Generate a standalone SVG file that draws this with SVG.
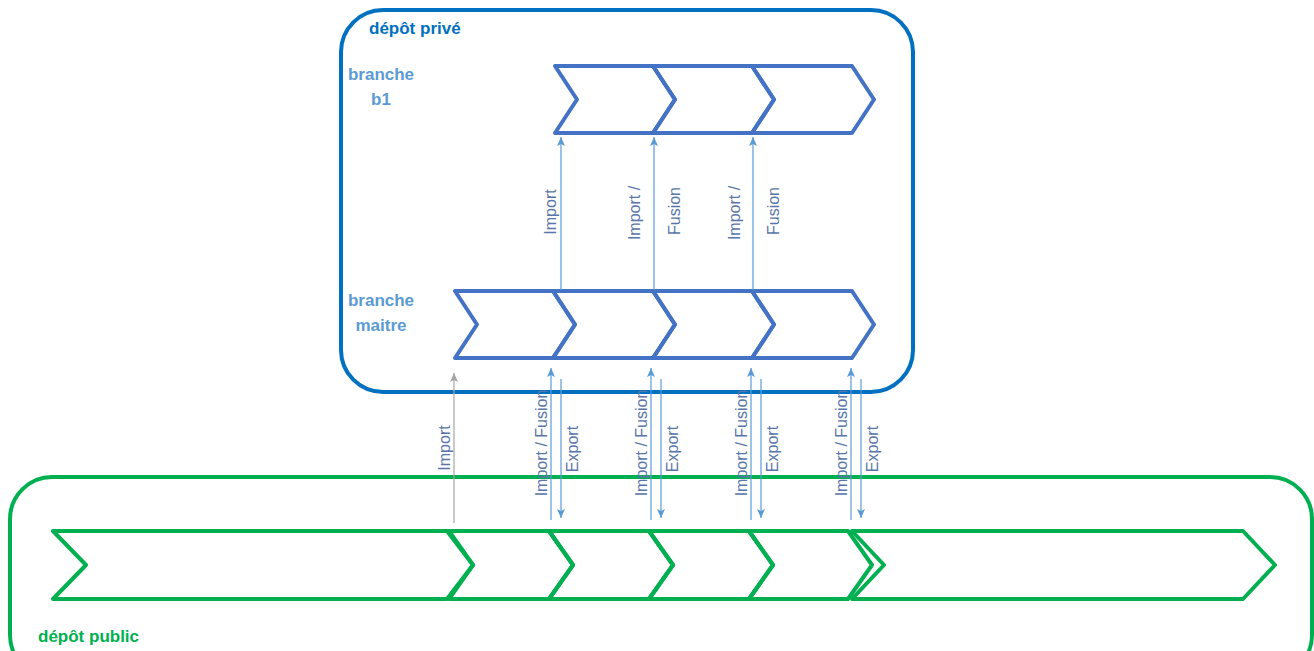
<svg xmlns="http://www.w3.org/2000/svg" width="1314" height="651" viewBox="0 0 1314 651">
<style>
.box{fill:none;stroke-width:4}
.priv{stroke:#0070C0}
.pub{stroke:#00B050}
.chevB{fill:none;stroke:#4472C4;stroke-width:4;stroke-linejoin:round}
.chevG{fill:none;stroke:#00B050;stroke-width:4;stroke-linejoin:round}
.title{font-family:"Liberation Sans",Arial,sans-serif;font-weight:bold;font-size:17px}
.br{font-family:"Liberation Sans",Arial,sans-serif;font-weight:bold;font-size:17px;fill:#5B9BD5}
.lbl{font-family:"Liberation Sans",Arial,sans-serif;font-size:16px;fill:#5876A8}
.ab{stroke:#5B9BD5;stroke-width:1.2;fill:none}
.ag{stroke:#A5A5A5;stroke-width:1.2;fill:none}
</style>
<defs>
<marker id="mb" markerWidth="10" markerHeight="10" refX="9" refY="5" orient="auto" markerUnits="userSpaceOnUse">
<path d="M0,1 L9,5 L0,9 L2,5 Z" fill="#5B9BD5"/>
</marker>
<marker id="mg" markerWidth="10" markerHeight="10" refX="9" refY="5" orient="auto" markerUnits="userSpaceOnUse">
<path d="M0,1 L9,5 L0,9 L2,5 Z" fill="#A5A5A5"/>
</marker>
</defs>
<rect width="1314" height="651" fill="#ffffff"/>

<g id="depot-prive">
<rect class="box priv" x="341" y="10" width="572" height="382" rx="42" ry="42"/>
<text class="title" x="369" y="34" fill="#0070C0">dépôt privé</text>
</g>

<g id="depot-public">
<rect class="box pub" x="10" y="477" width="1302" height="200" rx="42" ry="42"/>
<text class="title" x="38" y="642" fill="#00B050">dépôt public</text>
</g>

<g id="branche-b1">
<text class="br" x="381" y="80" text-anchor="middle">branche</text>
<text class="br" x="381" y="105" text-anchor="middle">b1</text>
<polygon class="chevB" points="555,66 653,66 675,99.5 653,133 555,133 577,99.5"/>
<polygon class="chevB" points="653,66 752,66 774,99.5 752,133 653,133 675,99.5"/>
<polygon class="chevB" points="752,66 852,66 874,99.5 852,133 752,133 774,99.5"/>
</g>

<g id="branche-maitre">
<text class="br" x="381" y="306" text-anchor="middle">branche</text>
<text class="br" x="381" y="331" text-anchor="middle">maitre</text>
<polygon class="chevB" points="455,291 553,291 575,324.5 553,358 455,358 477,324.5"/>
<polygon class="chevB" points="553,291 653,291 675,324.5 653,358 553,358 575,324.5"/>
<polygon class="chevB" points="653,291 752,291 774,324.5 752,358 653,358 675,324.5"/>
<polygon class="chevB" points="752,291 852,291 874,324.5 852,358 752,358 774,324.5"/>
</g>

<g id="branche-publique">
<polygon class="chevG" points="53,531 447,531 473,565 447,599 53,599 86,565"/>
<polygon class="chevG" points="449,531 549,531 573,565 549,599 449,599 473,565"/>
<polygon class="chevG" points="549,531 649,531 673,565 649,599 549,599 573,565"/>
<polygon class="chevG" points="649,531 749,531 773,565 749,599 649,599 673,565"/>
<polygon class="chevG" points="749,531 848,531 872,565 848,599 749,599 773,565"/>
<polygon class="chevG" points="852,531 1243,531 1275,565 1243,599 852,599 884,565"/>
</g>

<g id="connecteurs">
<line class="ab" x1="561" y1="290" x2="561" y2="137" marker-end="url(#mb)"/>
<line class="ab" x1="654" y1="290" x2="654" y2="137" marker-end="url(#mb)"/>
<line class="ab" x1="753" y1="290" x2="753" y2="137" marker-end="url(#mb)"/>
<text class="lbl" transform="translate(550,212) rotate(-90)" text-anchor="middle" dominant-baseline="central">Import</text>
<text class="lbl" transform="translate(634,213) rotate(-90)" text-anchor="middle" dominant-baseline="central">Import /</text>
<text class="lbl" transform="translate(674,211) rotate(-90)" text-anchor="middle" dominant-baseline="central">Fusion</text>
<text class="lbl" transform="translate(734,213) rotate(-90)" text-anchor="middle" dominant-baseline="central">Import /</text>
<text class="lbl" transform="translate(773,211) rotate(-90)" text-anchor="middle" dominant-baseline="central">Fusion</text>

<line class="ag" x1="454" y1="523" x2="454" y2="373" marker-end="url(#mg)"/>
<text class="lbl" transform="translate(444,448) rotate(-90)" text-anchor="middle" dominant-baseline="central">Import</text>

<line class="ab" x1="551" y1="520" x2="551" y2="368" marker-end="url(#mb)"/>
<line class="ab" x1="561" y1="379" x2="561" y2="518" marker-end="url(#mb)"/>
<text class="lbl" transform="translate(541,443) rotate(-90)" text-anchor="middle" dominant-baseline="central">Import / Fusion</text>
<text class="lbl" transform="translate(572,449) rotate(-90)" text-anchor="middle" dominant-baseline="central">Export</text>

<line class="ab" x1="651" y1="520" x2="651" y2="368" marker-end="url(#mb)"/>
<line class="ab" x1="661" y1="379" x2="661" y2="518" marker-end="url(#mb)"/>
<text class="lbl" transform="translate(641,443) rotate(-90)" text-anchor="middle" dominant-baseline="central">Import / Fusion</text>
<text class="lbl" transform="translate(672,449) rotate(-90)" text-anchor="middle" dominant-baseline="central">Export</text>

<line class="ab" x1="751" y1="520" x2="751" y2="368" marker-end="url(#mb)"/>
<line class="ab" x1="761" y1="379" x2="761" y2="518" marker-end="url(#mb)"/>
<text class="lbl" transform="translate(741,443) rotate(-90)" text-anchor="middle" dominant-baseline="central">Import / Fusion</text>
<text class="lbl" transform="translate(772,449) rotate(-90)" text-anchor="middle" dominant-baseline="central">Export</text>

<line class="ab" x1="851" y1="520" x2="851" y2="368" marker-end="url(#mb)"/>
<line class="ab" x1="861" y1="379" x2="861" y2="518" marker-end="url(#mb)"/>
<text class="lbl" transform="translate(841,443) rotate(-90)" text-anchor="middle" dominant-baseline="central">Import / Fusion</text>
<text class="lbl" transform="translate(872,449) rotate(-90)" text-anchor="middle" dominant-baseline="central">Export</text>
</g>
</svg>
